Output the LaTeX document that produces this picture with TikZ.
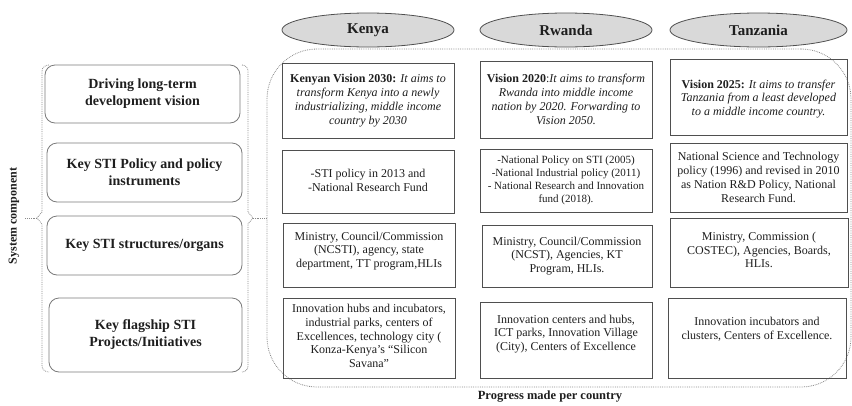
\documentclass[tikz,border=0pt]{standalone}
\usepackage{fontspec}
\setmainfont{Liberation Serif}
\usetikzlibrary{shapes.geometric}
\definecolor{ink}{HTML}{1E1E1E}
\definecolor{edge}{HTML}{4F4F4F}
\definecolor{softedge}{HTML}{7A7A7A}
\definecolor{dotline}{HTML}{8A8A8A}
\definecolor{pill}{HTML}{D9D9D9}
\begin{document}
\begin{tikzpicture}[x=1pt,y=-1pt,
  every node/.style={text=ink},
  cell/.style={draw=edge, line width=0.8pt, inner sep=0pt},
  celltext/.style={align=center, inner sep=0pt, font=\fontsize{12}{13.8}\selectfont},
  component/.style={draw=softedge, line width=0.8pt, rounded corners=10pt, inner sep=0pt,
    align=center, font=\fontsize{14}{17}\selectfont\bfseries},
  country/.style={ellipse, draw=edge, fill=pill, line width=0.8pt, inner sep=0pt,
    minimum width=172pt, minimum height=34pt, font=\fontsize{15}{18}\selectfont\bfseries},
  dotbox/.style={draw=dotline, densely dotted, line width=0.8pt},
]
\useasboundingbox (0,0) rectangle (852,405);

% country headers
\node[country] (kenya) at (368,30) {Kenya};
\node[country] (rwanda) at (566,30) {Rwanda};
\node[country, minimum width=177pt] (tanzania) at (758.5,30) {Tanzania};

% frame around the progress columns
\node[dotbox, rounded corners=50pt, minimum width=584pt, minimum height=338pt,
  inner sep=0pt] (prog) at (559,218) {};

% system components
\node[component, minimum width=195pt, minimum height=58pt] (c1) at (142.5,94)
  {Driving long-term\\development vision};
\node[component, minimum width=195pt, minimum height=59pt] (c2) at (144.5,172.5)
  {Key STI Policy and policy\\instruments};
\node[component, minimum width=195pt, minimum height=59pt] (c3) at (144.5,245.5)
  {Key STI structures/organs};
\node[component, minimum width=193pt, minimum height=74pt] (c4) at (145.5,335)
  {Key flagship STI\\Projects/Initiatives};

% brackets grouping the components
\coordinate (ltip) at (37,218);
\coordinate (rtip) at (253,218);
\draw[dotbox] (49,65) to[out=180,in=90] (42,71) -- (42,212) -- (ltip) -- (42,224)
  -- (42,366) to[out=-90,in=180] (49,372);
\draw[dotbox] (242,65) to[out=0,in=90] (248,71) -- (248,212) -- (rtip) -- (248,224)
  -- (248,366) to[out=-90,in=0] (242,372);
\node[rotate=90, font=\fontsize{12}{14}\selectfont\bfseries, inner sep=1pt] (sys) at (14,216)
  {System component};
\draw[dotbox] (ltip) -- (25,218);
\draw[dotbox] (rtip) -- (prog.west);

% Kenya
\node[cell, minimum width=172pt, minimum height=75pt] (k1) at (368,100.5) {};
\node[celltext] at (k1) {\textbf{Kenyan Vision 2030:} \textit{It aims to}\\
  \textit{transform Kenya into a newly}\\ \textit{industrializing, middle income}\\
  \textit{country by 2030}};
\node[cell, minimum width=172pt, minimum height=63pt] (k2) at (368,181.5) {};
\node[celltext, yshift=1.5pt] at (k2) {-STI policy in 2013 and\\-National Research Fund};
\node[cell, minimum width=172pt, minimum height=64pt] (k3) at (369,255) {};
\node[celltext, yshift=4pt] at (k3) {Ministry, Council/Commission\\(NCSTI), agency, state\\
  department, TT program,HLIs};
\node[cell, minimum width=172pt, minimum height=80pt] (k4) at (369,338) {};
\node[celltext, yshift=2pt] at (k4) {Innovation hubs and incubators,\\industrial parks, centers of\\
  Excellences, technology city (\\Konza-Kenya’s “Silicon\\Savana”};

% Rwanda
\node[cell, minimum width=172pt, minimum height=77pt] (r1) at (566,99.5) {};
\node[celltext] at (r1) {\textbf{Vision 2020}:\textit{It aims to transform}\\
  \textit{Rwanda into middle income}\\ \textit{nation by 2020. Forwarding to}\\
  \textit{Vision 2050.}};
\node[cell, minimum width=172pt, minimum height=63pt] (r2) at (566,180.5) {};
\node[celltext, font=\fontsize{11}{13}\selectfont] at (r2) {-National Policy on STI (2005)\\
  -National Industrial policy (2011)\\- National Research and Innovation\\fund (2018).};
\node[cell, minimum width=170pt, minimum height=62pt] (r3) at (567,256) {};
\node[celltext] at (r3) {Ministry, Council/Commission\\(NCST), Agencies, KT\\Program, HLIs.};
\node[cell, minimum width=172pt, minimum height=76pt] (r4) at (566,340) {};
\node[celltext, yshift=6pt] at (r4) {Innovation centers and hubs,\\ICT parks, Innovation Village\\
  (City), Centers of Excellence};

% Tanzania
\node[cell, minimum width=177pt, minimum height=76pt] (t1) at (758.5,97) {};
\node[celltext, yshift=-2pt] at (t1) {\textbf{Vision 2025:} \textit{It aims to transfer}\\
  \textit{Tanzania from a least developed}\\ \textit{to a middle income country.}};
\node[cell, minimum width=177pt, minimum height=69pt] (t2) at (758.5,177.5) {};
\node[celltext] at (t2) {National Science and Technology\\policy (1996) and revised in 2010\\
  as Nation R\&D Policy, National\\Research Fund.};
\node[cell, minimum width=178pt, minimum height=69pt] (t3) at (759,252.5) {};
\node[celltext, yshift=2.5pt] at (t3) {Ministry, Commission (\\COSTEC), Agencies, Boards,\\HLIs.};
\node[cell, minimum width=178pt, minimum height=80pt] (t4) at (757,338) {};
\node[celltext, yshift=8.5pt] at (t4) {Innovation incubators and\\clusters, Centers of Excellence.};

% caption under the columns
\node[font=\fontsize{12.5}{15}\selectfont\bfseries] (caption) at (550,397)
  {Progress made per country};
\end{tikzpicture}
\end{document}
